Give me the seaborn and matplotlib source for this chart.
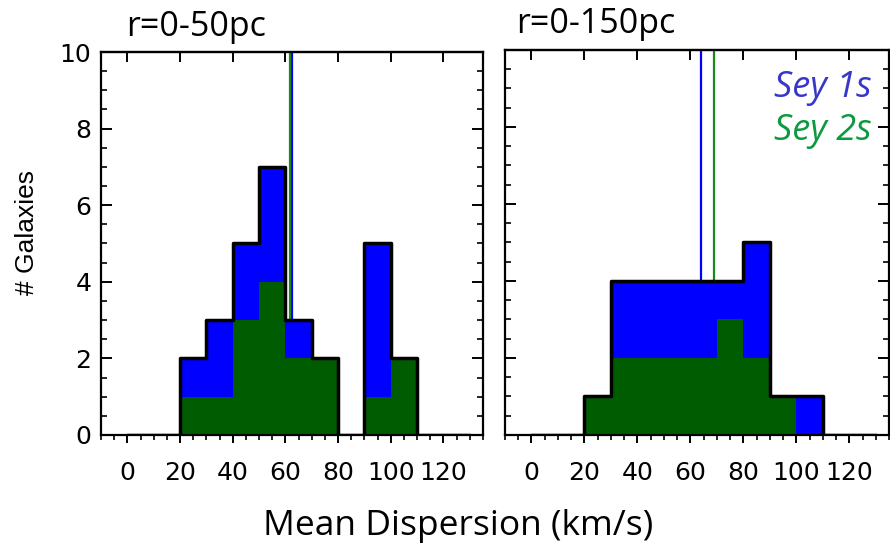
import numpy as np
import pandas as pd
import matplotlib
matplotlib.use("Agg")
import matplotlib.pyplot as plt
from matplotlib.ticker import MultipleLocator
import seaborn as sns

# Histogram bins (km/s): 0-10, 10-20, ..., 120-130
bin_edges = list(range(0, 140, 10))
bin_centers = [e + 5 for e in bin_edges[:-1]]

# Galaxy counts per bin, r = 0-50 pc
sey1_50 = [0, 0, 1, 2, 2, 3, 1, 0, 0, 4, 0, 0, 0]
sey2_50 = [0, 0, 1, 1, 3, 4, 2, 2, 0, 1, 2, 0, 0]
# Galaxy counts per bin, r = 0-150 pc
sey1_150 = [0, 0, 0, 2, 2, 2, 2, 1, 3, 0, 1, 0, 0]
sey2_150 = [0, 0, 1, 2, 2, 2, 2, 3, 2, 1, 0, 0, 0]

# Mean dispersion of each class (km/s)
mean_sey1 = [62.5, 64.0]
mean_sey2 = [61.8, 69.0]

titles = ["r=0-50pc", "r=0-150pc"]
x_ticks = [0, 20, 40, 60, 80, 100, 120]
y_ticks = [0, 2, 4, 6, 8, 10]

BLUE_FILL = "#0000ff"
GREEN_FILL = "#005c00"
BLUE_LINE = "#0000ff"
GREEN_LINE = "#178a17"
BLUE_TEXT = "#3838c8"
GREEN_TEXT = "#0c9a40"

sns.set_style("ticks")
plt.rcParams["font.family"] = ["DejaVu Sans"]
for key in ("text.color", "axes.labelcolor", "xtick.color", "ytick.color",
            "xtick.labelcolor", "ytick.labelcolor"):
    plt.rcParams[key] = "black"

fig = plt.figure(figsize=(8.9, 5.44), dpi=100)
ax_l = fig.add_axes([0.1135, 0.2004, 0.4292, 0.7040])
ax_r = fig.add_axes([0.5674, 0.2004, 0.4315, 0.7077])
axes = [ax_l, ax_r]

panels = [(sey1_50, sey2_50), (sey1_150, sey2_150)]

for i, (ax, (s1, s2)) in enumerate(zip(axes, panels)):
    # Mean markers sit behind the bars
    ax.axvline(mean_sey1[i], color=BLUE_LINE, lw=1.6, zorder=0.5)
    ax.axvline(mean_sey2[i], color=GREEN_LINE, lw=1.6, zorder=0.5)

    df = pd.DataFrame({
        "center": bin_centers * 2,
        "count": list(s1) + list(s2),
        "type": ["Sey 1s"] * len(s1) + ["Sey 2s"] * len(s2),
    })
    sns.histplot(data=df, x="center", weights="count", hue="type",
                 hue_order=["Sey 1s", "Sey 2s"], multiple="stack",
                 bins=bin_edges, palette={"Sey 1s": BLUE_FILL, "Sey 2s": GREEN_FILL},
                 alpha=1, linewidth=0, legend=False, ax=ax, zorder=1)
    total = [a + b for a, b in zip(s1, s2)]
    sns.histplot(x=bin_centers, weights=total, bins=bin_edges, element="step",
                 fill=False, color="black", linewidth=2.5, ax=ax, zorder=3)

    ax.set_xlim(-10, 135)
    ax.set_ylim(0, 10)
    ax.set_xlabel("")
    ax.set_ylabel("")
    ax.set_xticks(x_ticks)
    ax.set_yticks(y_ticks)
    ax.xaxis.set_minor_locator(MultipleLocator(5))
    ax.yaxis.set_minor_locator(MultipleLocator(0.5))

    for sp in ax.spines.values():
        sp.set_visible(True)
        sp.set_linewidth(1.6)
        sp.set_color("black")
        sp.set_zorder(5)

    ax.tick_params(axis="x", which="major", direction="out", length=6, width=1.4,
                   top=False, labelsize=18, pad=13, colors="black")
    ax.tick_params(axis="x", which="minor", direction="out", length=3.5, width=1.2,
                   top=False)
    ax.tick_params(axis="y", which="major", direction="in", length=8, width=1.4,
                   left=True, right=True, labelsize=18, pad=7, colors="black")
    ax.tick_params(axis="y", which="minor", direction="in", length=4, width=1.2,
                   left=True, right=True)
    # Top edge carries inward major ticks only
    sec = ax.secondary_xaxis("top")
    sec.set_xticks(x_ticks)
    sec.tick_params(axis="x", direction="in", length=7, width=1.4, labeltop=False)
    sec.spines["top"].set_linewidth(1.6)

ax_r.tick_params(axis="y", labelleft=False)

title_font = {"family": "Open Sans", "size": 24.5, "color": "black"}
fig.text(0.142, 0.951, titles[0], ha="left", va="center", fontdict=title_font)
fig.text(0.580, 0.955, titles[1], ha="left", va="center", fontdict=title_font)

fig.text(0.515, 0.033, "Mean Dispersion (km/s)", ha="center", va="center",
         family="Open Sans", size=25.5)
fig.text(0.030, 0.573, "# Galaxies", ha="center", va="center", rotation=90,
         family="Liberation Sans", size=19)

ax_r.text(0.955, 0.879, "Sey 1s", transform=ax_r.transAxes, ha="right", va="baseline",
          family="Open Sans", style="italic", size=26, color=BLUE_TEXT)
ax_r.text(0.955, 0.766, "Sey 2s", transform=ax_r.transAxes, ha="right", va="baseline",
          family="Open Sans", style="italic", size=26, color=GREEN_TEXT)

fig.savefig("out.png", dpi=100)
